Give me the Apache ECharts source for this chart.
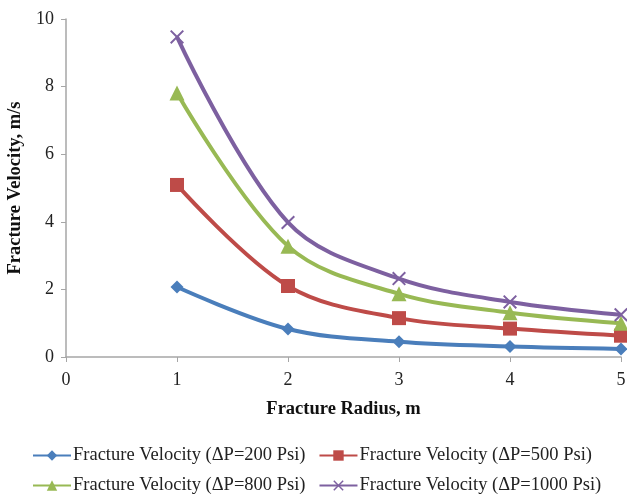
<!DOCTYPE html>
<html>
<head>
<meta charset="utf-8">
<script src="https://cdn.jsdelivr.net/npm/echarts@6/dist/echarts.min.js"></script>
<style>
  html, body { margin: 0; padding: 0; background: #fff; }
  #chart { width: 627px; height: 497px; }
</style>
</head>
<body>
<div id="chart"></div>
<script>
// fracture radius, m
const radius = [1, 2, 3, 4, 5]
// fracture velocity, m/s for each pressure drop
const v200 = [2.07, 0.83, 0.45, 0.31, 0.24]
const v500 = [5.09, 2.1, 1.15, 0.84, 0.63]
const v800 = [7.81, 3.28, 1.87, 1.31, 1.0]
const v1000 = [9.47, 3.98, 2.32, 1.63, 1.25]
const seriesNames = [
  'Fracture Velocity (ΔP=200 Psi)',
  'Fracture Velocity (ΔP=500 Psi)',
  'Fracture Velocity (ΔP=800 Psi)',
  'Fracture Velocity (ΔP=1000 Psi)'
]

const font = 'Liberation Serif'
const crossPath = 'path://M0,1L1,0L5,4L9,0L10,1L6,5L10,9L9,10L5,6L1,10L0,9L4,5Z'

function pairs(ys) {
  return radius.map((x, i) => [x, ys[i]])
}

function line(name, ys, color, symbol, size) {
  return {
    name: name,
    type: 'line',
    smooth: 0.35,
    data: pairs(ys),
    symbol: symbol,
    symbolSize: size,
    lineStyle: { color: color, width: 4 },
    itemStyle: { color: color },
    emphasis: { disabled: true }
  }
}

const chart = echarts.init(document.getElementById('chart'))
const legendCommon = {
  left: 27,
  itemWidth: 38,
  itemHeight: 13,
  itemGap: 13,
  textStyle: { fontFamily: font, fontSize: 18.5, color: '#222', padding: [0, 0, 0, -3] }
}
chart.setOption({
  animation: false,
  color: ['#4a7ebb', '#be4b48', '#98b954', '#7d60a0'],
  grid: { left: 66, right: 6, top: 19, bottom: 140, containLabel: false, outerBoundsMode: 'none' },
  legend: [
    Object.assign({ top: 441, data: [seriesNames[0], seriesNames[1]] }, legendCommon),
    Object.assign({ top: 471, data: [seriesNames[2], seriesNames[3]] }, legendCommon)
  ],
  xAxis: {
    type: 'value',
    min: 0,
    max: 5,
    interval: 1,
    name: 'Fracture Radius, m',
    nameLocation: 'middle',
    nameGap: 43,
    nameTextStyle: { fontFamily: font, fontSize: 18.5, fontWeight: 'bold', color: '#111' },
    axisLine: { lineStyle: { color: '#a6a6a6', width: 1.5 } },
    axisTick: { show: true, length: 5, lineStyle: { color: '#a6a6a6' } },
    axisLabel: { fontFamily: font, fontSize: 18, color: '#222', margin: 14 },
    splitLine: { show: false }
  },
  yAxis: {
    type: 'value',
    min: 0,
    max: 10,
    interval: 2,
    name: 'Fracture Velocity, m/s',
    nameLocation: 'middle',
    nameGap: 36,
    nameTextStyle: { fontFamily: font, fontSize: 18.5, fontWeight: 'bold', color: '#111' },
    axisLine: { show: true, lineStyle: { color: '#a6a6a6', width: 1.5 } },
    axisTick: { show: true, length: 5, lineStyle: { color: '#a6a6a6' } },
    axisLabel: { fontFamily: font, fontSize: 18, color: '#222', margin: 12 },
    splitLine: { show: false }
  },
  series: [
    line(seriesNames[0], v200, '#4a7ebb', 'diamond', 13),
    line(seriesNames[1], v500, '#be4b48', 'rect', 14),
    line(seriesNames[2], v800, '#98b954', 'triangle', 15),
    line(seriesNames[3], v1000, '#7d60a0', crossPath, 14)
  ]
})
</script>
</body>
</html>
